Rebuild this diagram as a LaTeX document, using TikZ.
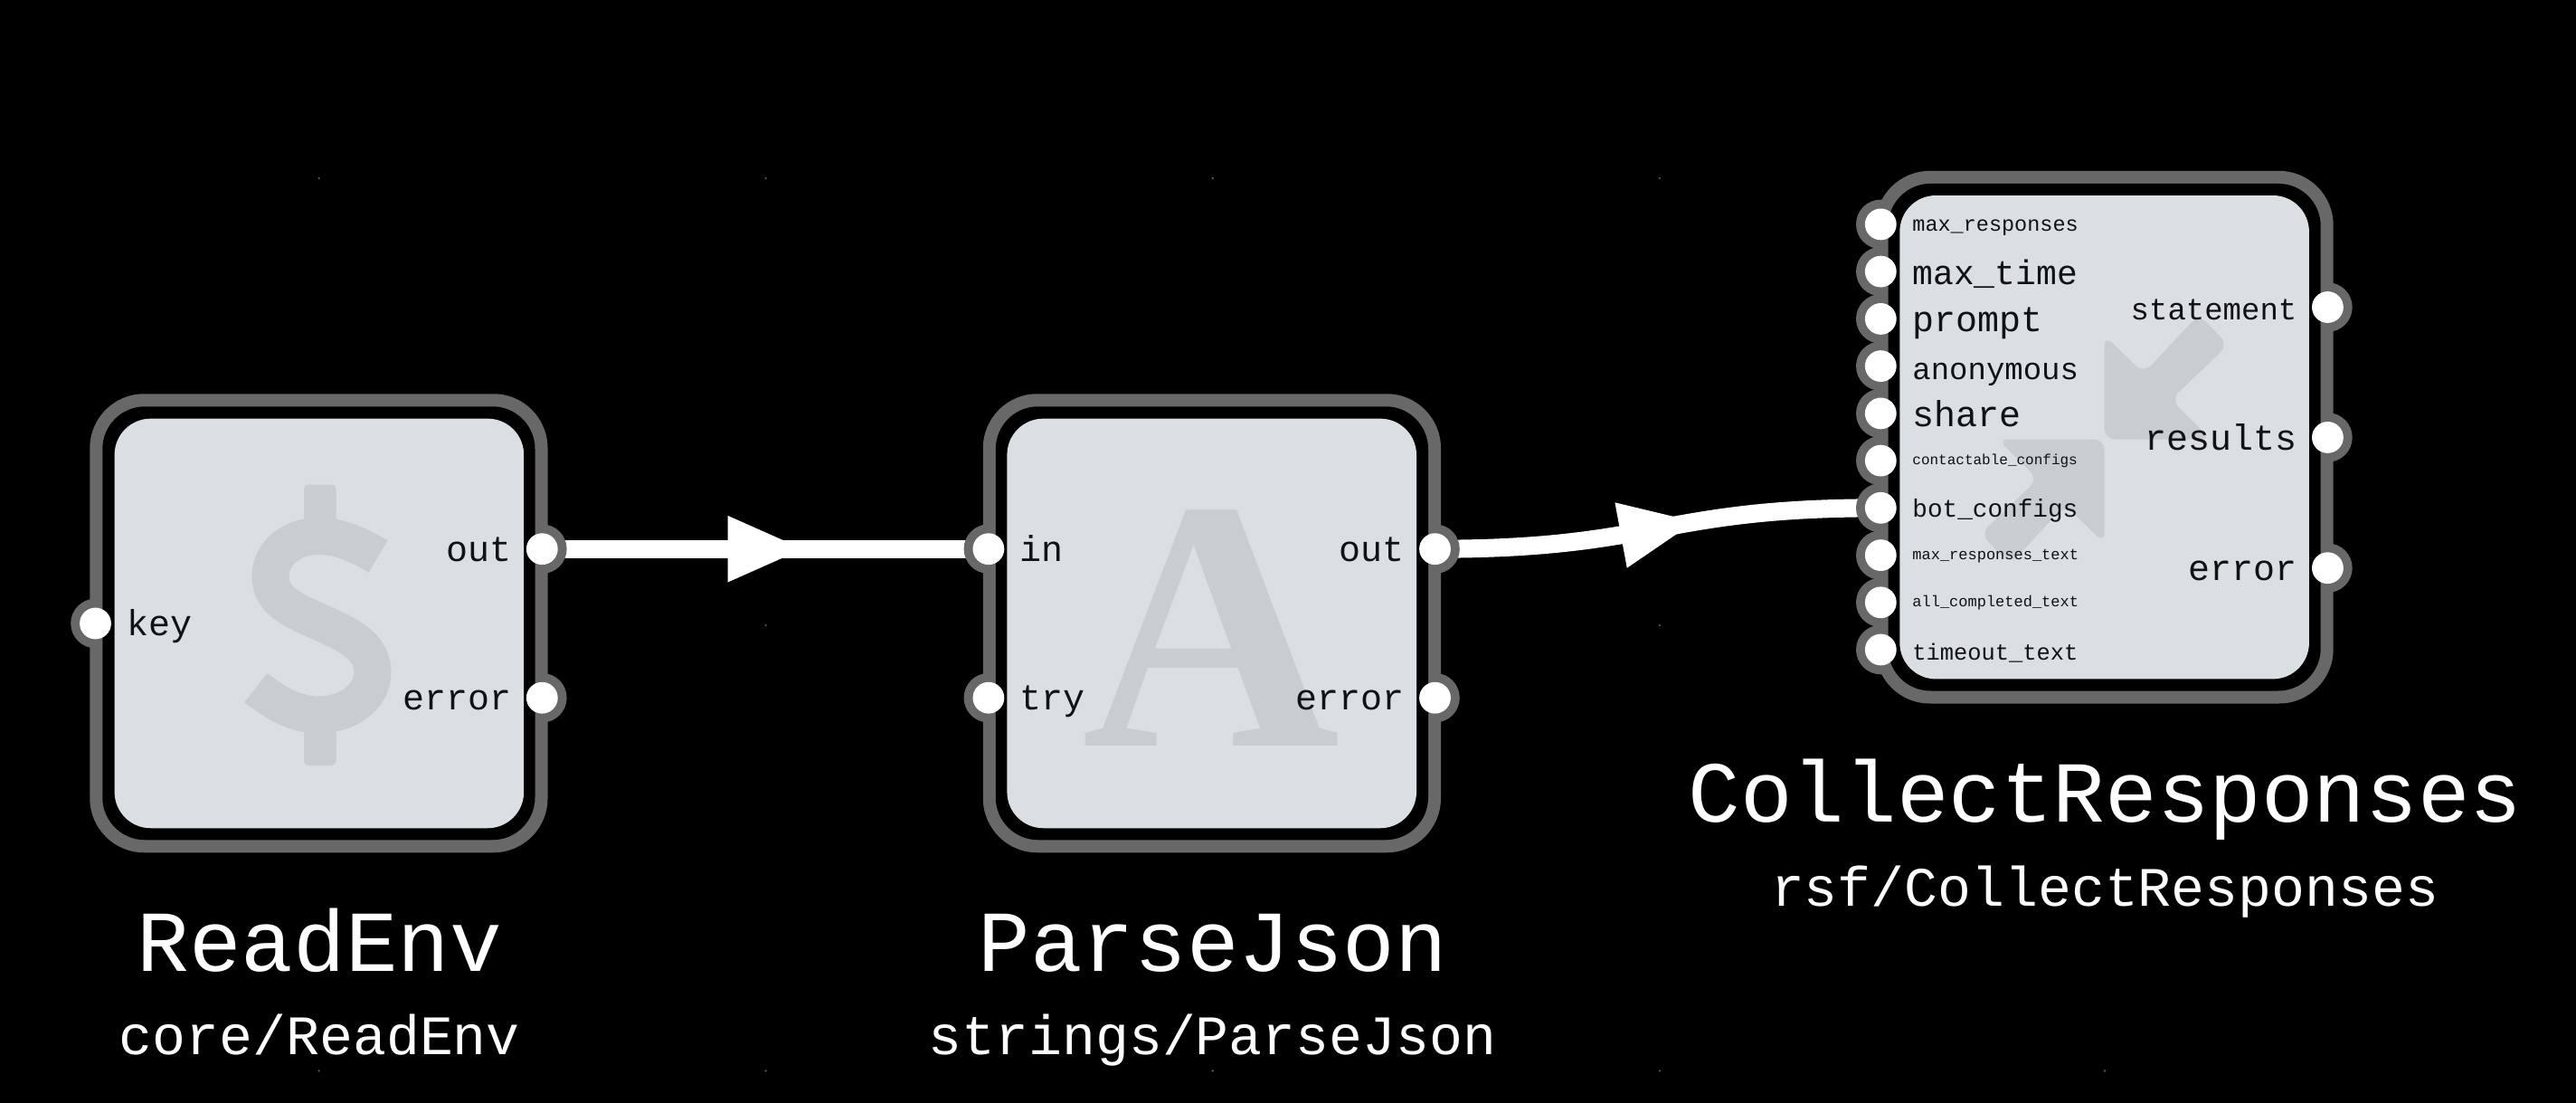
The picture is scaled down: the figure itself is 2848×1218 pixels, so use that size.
\documentclass[tikz,border=0pt]{standalone}
\usepackage{fontspec}
\usetikzlibrary{backgrounds,decorations.markings}
\newfontfamily\codefont{Liberation Mono}
\newfontfamily\glyphfont{Liberation Serif}
\newcommand{\fsz}[1]{\fontsize{#1}{#1}\selectfont}
\definecolor{ringgray}{HTML}{686868}
\definecolor{bodylight}{HTML}{D9DFE2}
\definecolor{iconshade}{HTML}{C7CDD0}
\definecolor{inkdark}{HTML}{101214}
\definecolor{gridgray}{HTML}{5A5A5A}
\tikzset{
  ring/.style={circle,fill=ringgray,minimum size=54.6pt,inner sep=0pt},
  portdot/.style={circle,fill=white,minimum size=34.8pt,inner sep=0pt},
  frameouter/.style={rectangle,fill=ringgray,rounded corners=60pt,minimum width=506.2pt,inner sep=0pt},
  framegap/.style={rectangle,fill=black,rounded corners=47pt,minimum width=478.2pt,inner sep=0pt},
  framebody/.style={rectangle,fill=bodylight,rounded corners=40pt,minimum width=452.6pt,inner sep=0pt},
  leftlabel/.style={anchor=base west,inner sep=0pt,text=inkdark,font=\codefont\fsz{#1}},
  rightlabel/.style={anchor=base east,inner sep=0pt,text=inkdark,font=\codefont\fsz{#1}},
  titletext/.style={anchor=base,inner sep=0pt,text=white,font=\codefont\fsz{96}},
  subtext/.style={anchor=base,inner sep=0pt,text=white,font=\codefont\fsz{61.5}},
  wire/.style={draw=white,line width=20pt},
  midarrow/.style={decoration={markings,mark=at position 0.5 with {\fill[white] (-41.5pt,-36.8pt)--(41.5pt,0pt)--(-41.5pt,36.8pt)--cycle;}},postaction={decorate}}
}
\begin{document}
\begin{tikzpicture}[x=1pt,y=-1pt]
\useasboundingbox (0,0) rectangle (2848,1218);
% ---------- ReadEnv
\foreach \px/\py in {105.5/689,599.3/606.7,599.3/771.2} \node[ring] at (\px,\py) {};
\node[frameouter,minimum height=507pt] (readenv) at (352.4,688.75) {};
\node[framegap,minimum height=479pt] (readenvgap) at (352.4,688.75) {};
\node[framebody,minimum height=452.6pt] (readenvbody) at (352.9,688.95) {};
% dollar icon
\fill[iconshade,rounded corners=5pt] (336,535.5) rectangle (371.6,580);
\fill[iconshade,rounded corners=5pt] (336,802) rectangle (371.6,846);
\draw[iconshade,line width=41pt,line cap=butt] (418,615) .. controls (398,603) and (376,592.5) .. (352,592.5)
  .. controls (322,592.5) and (299,612) .. (299,637)
  .. controls (299,665) and (326,675) .. (354.6,688)
  .. controls (384,701) and (412,714) .. (412,743)
  .. controls (412,769) and (386,790) .. (352,790)
  .. controls (326,790) and (303,776) .. (283,760);
\node[leftlabel=40] (readenvkey) at (140.5,702) {key};
\node[rightlabel=40] (readenvout) at (565.5,620) {out};
\node[rightlabel=40] (readenverror) at (565.5,784.6) {error};
\node[portdot] (p1key) at (105.5,689) {};
\node[portdot] (p1out) at (599.3,606.7) {};
\node[portdot] (p1err) at (599.3,771.2) {};
\node[titletext] (readenvtitle) at (353.4,1073.3) {ReadEnv};
\node[subtext] (readenvsub) at (353.4,1165) {core/ReadEnv};
% ---------- ParseJson
\foreach \px/\py in {1092.9/606.7,1092.9/771.2,1586.5/606.7,1586.5/771.2} \node[ring] at (\px,\py) {};
\node[frameouter,minimum height=507pt] (parsejson) at (1339.9,688.75) {};
\node[framegap,minimum height=479pt] (parsejsongap) at (1339.9,688.75) {};
\node[framebody,minimum height=452.6pt] (parsejsonbody) at (1339.7,688.95) {};
\node[anchor=base,inner sep=0pt,text=iconshade,font=\glyphfont\bfseries\fsz{395}] (parsejsonicon) at (1339.5,824.8) {A};
\node[leftlabel=40] (parsejsonin) at (1127.5,620) {in};
\node[leftlabel=40] (parsejsontry) at (1127.5,784.6) {try};
\node[rightlabel=40] (parsejsonout) at (1552.5,620) {out};
\node[rightlabel=40] (parsejsonerror) at (1552.5,784.6) {error};
\node[portdot] (p2in) at (1092.9,606.7) {};
\node[portdot] (p2try) at (1092.9,771.2) {};
\node[portdot] (p2out) at (1586.5,606.7) {};
\node[portdot] (p2err) at (1586.5,771.2) {};
\node[titletext] (parsejsontitle) at (1340.9,1073.3) {ParseJson};
\node[subtext] (parsejsonsub) at (1340.4,1165) {strings/ParseJson};
% ---------- CollectResponses
\foreach \py in {247.9,300.1,352.4,404.6,456.9,509.1,561.3,613.6,665.8,718} \node[ring] at (2079.3,\py) {};
\foreach \py in {339.5,483.4,627.7} \node[ring] at (2573.4,\py) {};
\node[frameouter,minimum height=588.6pt] (collect) at (2326.6,483.2) {};
\node[framegap,minimum height=560.6pt] (collectgap) at (2326.6,483.2) {};
\node[framebody,minimum height=534.4pt] (collectbody) at (2326.6,483.2) {};
\foreach \ang in {0,180}
  \fill[iconshade,rounded corners=12pt,shift={(2326.6,485.5)},rotate=\ang]
    (0,0) -- (0,-115) -- (43.4,-72.8) -- (104.4,-138) -- (137,-104.5) -- (73.4,-43.8) -- (118,0) -- cycle;
\node[leftlabel=23.5] (c1) at (2114.2,255.4) {max\_responses};
\node[leftlabel=38] (c2) at (2114.2,314) {max\_time};
\node[leftlabel=40] (c3) at (2114.2,366) {prompt};
\node[leftlabel=34] (c4) at (2114.2,419) {anonymous};
\node[leftlabel=40] (c5) at (2114.2,471) {share};
\node[leftlabel=16] (c6) at (2114.2,513) {contactable\_configs};
\node[leftlabel=27.7] (c7) at (2114.2,571.7) {bot\_configs};
\node[leftlabel=17] (c8) at (2114.2,618) {max\_responses\_text};
\node[leftlabel=17] (c9) at (2114.2,670) {all\_completed\_text};
\node[leftlabel=25.4] (c10) at (2114.2,729) {timeout\_text};
\node[rightlabel=34] (cstatement) at (2539.5,353.5) {statement};
\node[rightlabel=40] (cresults) at (2539.5,497) {results};
\node[rightlabel=40] (cerror) at (2539.5,641) {error};
\node[portdot] (pc1) at (2079.3,247.9) {};
\node[portdot] (pc2) at (2079.3,300.1) {};
\node[portdot] (pc3) at (2079.3,352.4) {};
\node[portdot] (pc4) at (2079.3,404.6) {};
\node[portdot] (pc5) at (2079.3,456.9) {};
\node[portdot] (pc6) at (2079.3,509.1) {};
\node[portdot] (pc7) at (2079.3,561.3) {};
\node[portdot] (pc8) at (2079.3,613.6) {};
\node[portdot] (pc9) at (2079.3,665.8) {};
\node[portdot] (pc10) at (2079.3,718) {};
\node[portdot] (pcs) at (2573.4,339.5) {};
\node[portdot] (pcr) at (2573.4,483.4) {};
\node[portdot] (pce) at (2573.4,627.7) {};
\node[titletext] (collecttitle) at (2327.6,908) {CollectResponses};
\node[subtext] (collectsub) at (2327.1,1001) {rsf/CollectResponses};
% ---------- background, grid points and wires
\begin{scope}[on background layer]
  \fill[black] (-6,-6) rectangle (2854,1224);
  \foreach \gx in {352.6,846.6,1340.7,1834.8,2327}
    \foreach \gy in {197,691,1183.5}
      \fill[gridgray] (\gx,\gy) circle (1.3pt);
  \draw[wire,midarrow] (p1out.center) -- (p2in.center);
  \draw[wire,midarrow] (p2out.center) .. controls (1833,606.7) and (1833,561.3) .. (pc7.center);
\end{scope}
\end{tikzpicture}
\end{document}
